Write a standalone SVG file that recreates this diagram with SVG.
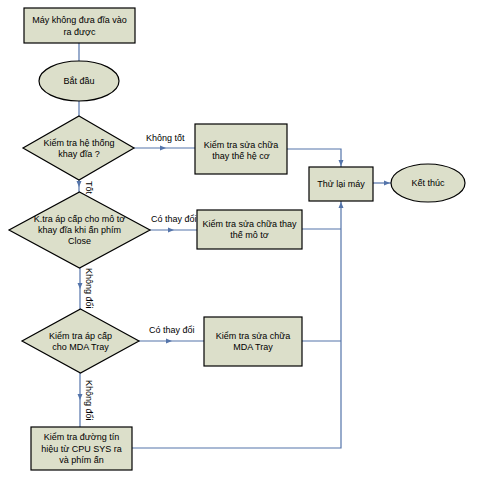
<svg xmlns="http://www.w3.org/2000/svg" width="482" height="483" viewBox="0 0 482 483">
<defs>
<style>
.n{fill:#dcdfca;stroke:#000;stroke-width:1.2}
.t{font-family:"Liberation Sans",Arial,sans-serif;font-size:9px;fill:#000;text-anchor:middle}
.l{font-family:"Liberation Sans",Arial,sans-serif;font-size:9px;fill:#000}
.c{fill:none;stroke:#5474aa;stroke-width:1.2}
.a{fill:#5474aa}
</style>
</defs>
<rect width="482" height="483" fill="#fff"/>
<g id="connectors">
<path class="c" d="M79,43V61"/>
<path class="c" d="M79,101V116"/>
<path class="c" d="M134,148H195"/>
<path class="c" d="M79,180V192"/>
<path class="c" d="M150,230H197"/>
<path class="c" d="M80,268V309"/>
<path class="c" d="M139,341H204"/>
<path class="c" d="M80,373V427"/>
<path class="c" d="M287,149H341V167"/>
<path class="c" d="M302,229H341"/>
<path class="c" d="M302,341H341"/>
<path class="c" d="M132,448H341V201"/>
<path class="c" d="M373,183H391"/>
<path class="a" d="M166,148l-6,-2.5v5z"/>
<path class="a" d="M79,187l-2.5,-6h5z"/>
<path class="a" d="M174,230l-6,-2.5v5z"/>
<path class="a" d="M80,289l-2.5,-6h5z"/>
<path class="a" d="M172,341l-6,-2.5v5z"/>
<path class="a" d="M80,400l-2.5,-6h5z"/>
<path class="a" d="M341,166l-2.5,-6h5z"/>
<path class="a" d="M341,202l-2.5,6h5z"/>
<path class="a" d="M390,183l-6,-2.5v5z"/>
<text class="l" x="146" y="141">Không tốt</text>
<text class="l" transform="translate(86,181) rotate(90)">Tốt</text>
<text class="l" x="151" y="222">Có thay đổi</text>
<text class="l" transform="translate(86,268) rotate(90)">Không đổi</text>
<text class="l" x="149" y="333">Có thay đổi</text>
<text class="l" transform="translate(86,380) rotate(90)">Không đổi</text>
</g>
<g id="n1"><rect class="n" x="24" y="8" width="111" height="35"/><text class="t" x="79.5" y="23">Máy không đưa đĩa vào</text><text class="t" x="79.5" y="35">ra được</text></g>
<g id="n2"><ellipse class="n" cx="79" cy="81" rx="40" ry="20"/><text class="t" x="79" y="84">Bắt đầu</text></g>
<g id="n3"><polygon class="n" points="79,116 134,148 79,180 23,148"/><text class="t" x="79" y="146">Kiểm tra hệ thống</text><text class="t" x="79" y="157">khay đĩa ?</text></g>
<g id="n4"><rect class="n" x="195" y="124" width="92" height="50"/><text class="t" x="241" y="148">Kiểm tra sửa chữa</text><text class="t" x="241" y="159">thay thế hệ cơ</text></g>
<g id="n5"><polygon class="n" points="79.5,192 150,230 79.5,268 9,230"/><text class="t" x="79.5" y="222">K.tra áp cấp cho mô tơ</text><text class="t" x="79.5" y="233">khay đĩa khi ấn phím</text><text class="t" x="79.5" y="244">Close</text></g>
<g id="n6"><rect class="n" x="197" y="210" width="105" height="39"/><text class="t" x="249.5" y="227">Kiểm tra sửa chữa thay</text><text class="t" x="249.5" y="238">thế mô tơ</text></g>
<g id="n7"><rect class="n" x="309" y="167" width="64" height="34"/><text class="t" x="341" y="187">Thử lại máy</text></g>
<g id="n8"><ellipse class="n" cx="428" cy="183" rx="37" ry="19"/><text class="t" x="428" y="186">Kết thúc</text></g>
<g id="n9"><polygon class="n" points="80.5,309 139,341 80.5,373 22,341"/><text class="t" x="80.5" y="339">Kiểm tra áp cấp</text><text class="t" x="80.5" y="350">cho MDA Tray</text></g>
<g id="n10"><rect class="n" x="204" y="317" width="98" height="49"/><text class="t" x="253" y="339">Kiểm tra sửa chữa</text><text class="t" x="253" y="350">MDA Tray</text></g>
<g id="n11"><rect class="n" x="31" y="427" width="101" height="43"/><text class="t" x="81.5" y="440">Kiểm tra đường tín</text><text class="t" x="81.5" y="452">hiệu từ CPU SYS ra</text><text class="t" x="81.5" y="463">và phím ấn</text></g>
</svg>
